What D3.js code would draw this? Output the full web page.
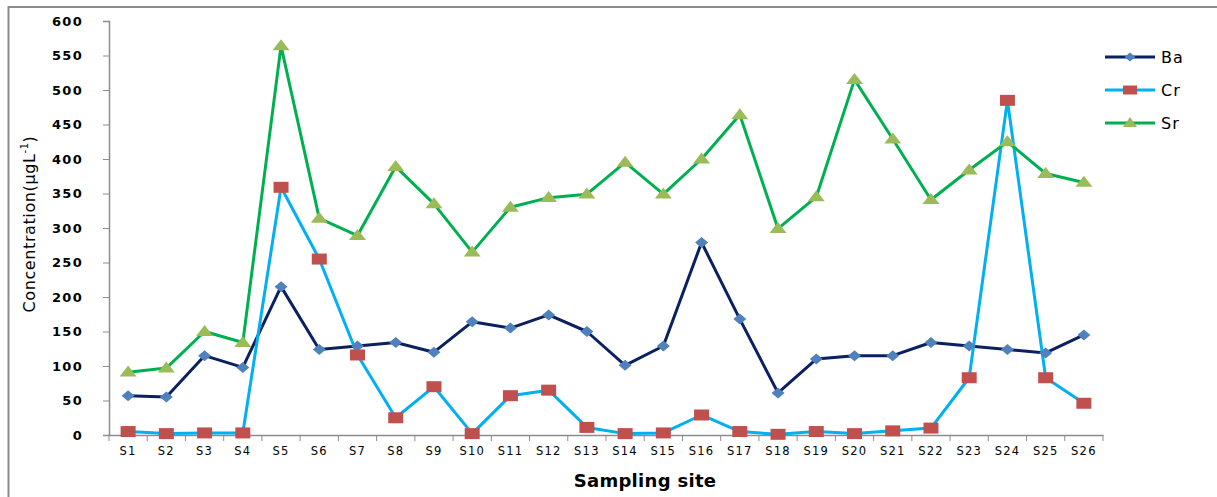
<!DOCTYPE html>
<html><head><meta charset="utf-8">
<script src="https://cdn.jsdelivr.net/npm/d3@7"></script>
<style>body{margin:0;background:#fff}svg{display:block}</style>
</head><body>
<script>
const sites = ["S1","S2","S3","S4","S5","S6","S7","S8","S9","S10","S11","S12","S13","S14","S15","S16","S17","S18","S19","S20","S21","S22","S23","S24","S25","S26"];
const ba = [57,55,115,98,215,124,129,134,120,164,155,174,150,101,129,279,168,61,110,115,115,134,129,124,119,145];
const cr = [5,2,3,3,359,255,116,25,70,2,57,65,11,2,3,29,5,1,5,2,6,10,83,485,83,46];
const sr = [91,97,150,134,564,314,289,389,335,265,330,344,349,395,349,400,464,299,345,515,429,341,384,425,379,366];
const yTicks = [0,50,100,150,200,250,300,350,400,450,500,550,600];
const seriesNames = ["Ba","Cr","Sr"];

const W = 1217, H = 497;
const FONT = "DejaVu Sans, Verdana, sans-serif";
const svg = d3.select("body").append("svg").attr("width", W).attr("height", H);

// outer frame
svg.append("rect").attr("x", 8.5).attr("y", 7).attr("width", W + 20).attr("height", H + 20)
  .attr("fill", "none").attr("stroke", "#8c8c8c").attr("stroke-width", 2);

const mLeft = 109, mRight = 1103, mTop = 21, mBottom = 435;
const x = d3.scaleBand().domain(sites).range([mLeft, mRight]);
const y = d3.scaleLinear().domain([0, 600]).range([mBottom, mTop]);

// y axis
const yAxis = svg.append("g").attr("transform", `translate(${mLeft},0)`)
  .call(d3.axisLeft(y).tickValues(yTicks).tickSize(6).tickPadding(20));
yAxis.select(".domain").attr("stroke", "#8c8c8c").attr("stroke-width", 1.5);
yAxis.selectAll(".tick line").attr("stroke", "#8c8c8c");
yAxis.selectAll("text").attr("font-family", FONT)
  .attr("font-size", 13).attr("font-weight", "bold").attr("letter-spacing", 1.3).attr("fill", "#000");

// x axis
const xAxis = svg.append("g").attr("transform", `translate(0,${mBottom})`)
  .call(d3.axisBottom(x).tickSize(0).tickPadding(12));
xAxis.select(".domain").attr("stroke", "#8c8c8c").attr("stroke-width", 1.5);
xAxis.selectAll("text").attr("font-family", FONT)
  .attr("font-size", 11.5).attr("letter-spacing", 1.2).attr("fill", "#000");
const bounds = sites.map(s => x(s)).concat([mRight]);
svg.append("g").selectAll("line").data(bounds).join("line")
  .attr("x1", d => d).attr("x2", d => d).attr("y1", mBottom).attr("y2", mBottom + 6)
  .attr("stroke", "#8c8c8c").attr("stroke-width", 1);

// axis titles
svg.append("text").attr("x", 645).attr("y", 487).attr("text-anchor", "middle")
  .attr("font-family", FONT).attr("font-weight", "bold")
  .attr("font-size", 18).attr("letter-spacing", 0.3).attr("fill", "#000").text("Sampling site");
const yt = svg.append("text").attr("transform", "translate(35,224) rotate(-90)").attr("text-anchor", "middle")
  .attr("font-family", FONT).attr("font-size", 16).attr("letter-spacing", 0.6).attr("fill", "#000");
yt.append("tspan").text("Concentration(μgL");
yt.append("tspan").attr("font-size", 10).attr("dy", -7).text("-1");
yt.append("tspan").attr("dy", 7).text(")");

// marker shapes (width x height)
const diamond = (w, h) => ({draw(c){ c.moveTo(0,-h/2); c.lineTo(w/2,0); c.lineTo(0,h/2); c.lineTo(-w/2,0); c.closePath(); }});
const rectS = (w, h) => ({draw(c){ c.rect(-w/2,-h/2,w,h); }});
const tri = (w, h) => ({draw(c){ c.moveTo(0,-h*0.6); c.lineTo(w/2,h*0.4); c.lineTo(-w/2,h*0.4); c.closePath(); }});

const cx = i => x(sites[i]) + x.bandwidth() / 2;
const series = [
  {name: seriesNames[0], data: ba, line: "#0b2060", fill: "#4f81bd", shape: diamond(13, 11), lshape: diamond(11, 9)},
  {name: seriesNames[1], data: cr, line: "#00b0f0", fill: "#c0504d", shape: rectS(15, 11), lshape: rectS(14, 9)},
  {name: seriesNames[2], data: sr, line: "#00b050", fill: "#9bbb59", shape: tri(17, 11), lshape: tri(14, 10)}
];

const lineGen = d3.line().x((d, i) => cx(i)).y(d => y(d));
series.forEach(s => {
  svg.append("path").datum(s.data).attr("d", lineGen).attr("fill", "none")
    .attr("stroke", s.line).attr("stroke-width", 3).attr("stroke-linejoin", "round");
});
series.forEach(s => {
  svg.append("g").selectAll("path").data(s.data).join("path")
    .attr("d", d3.symbol().type(s.shape))
    .attr("transform", (d, i) => `translate(${cx(i)},${y(d)})`)
    .attr("fill", s.fill);
});

// legend
const lg = svg.append("g");
series.forEach((s, i) => {
  const ly = 57 + i * 33;
  lg.append("line").attr("x1", 1105).attr("x2", 1155).attr("y1", ly).attr("y2", ly)
    .attr("stroke", s.line).attr("stroke-width", 3);
  lg.append("path").attr("d", d3.symbol().type(s.lshape)).attr("transform", `translate(1130,${ly})`)
    .attr("fill", s.fill);
  lg.append("text").attr("x", 1161).attr("y", ly + 6).attr("font-family", FONT)
    .attr("font-size", 16).attr("letter-spacing", 1).attr("fill", "#000").text(s.name);
});
</script>
</body></html>
